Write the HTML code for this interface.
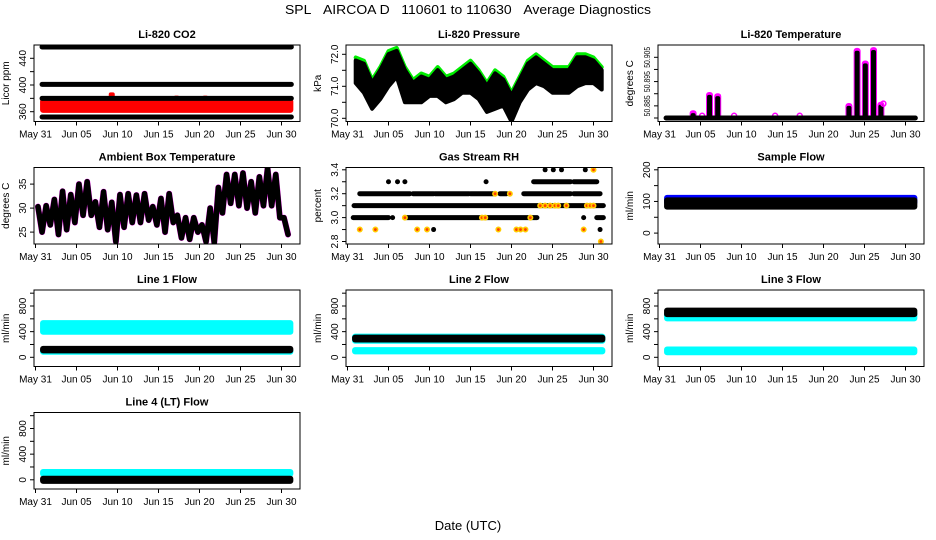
<!DOCTYPE html>
<html><head><meta charset="utf-8"><style>
body{margin:0;background:#fff}
svg{display:block;font-family:"Liberation Sans",Arial,sans-serif}
</style></head><body>
<svg id="chart" width="936" height="540" viewBox="0 0 936 540" xmlns="http://www.w3.org/2000/svg">
<rect width="936" height="540" fill="#fff"/>
<text x="468" y="14" text-anchor="middle" font-size="13" textLength="366" lengthAdjust="spacingAndGlyphs">SPL&#160;&#160;&#160;AIRCOA D&#160;&#160;&#160;110601 to 110630&#160;&#160;&#160;Average Diagnostics</text>
<text x="468" y="530" text-anchor="middle" font-size="13">Date (UTC)</text>
</svg>
<script>
// ---- shared x axis ----
const xTickDays = [0,5,10,15,20,25,30];
const xTickLabels = ['May 31','Jun 05','Jun 10','Jun 15','Jun 20','Jun 25','Jun 30'];
const dataStart = 0.8, dataEnd = 31.2;

// ---- CO2 ----
const co2BlackLevels = [457, 401, 380, 352];
const co2RedLow = 362, co2RedHigh = 376;
const co2RedSpikeDays = [2.5, 9.3, 17.2, 20.7, 28.8, 30.5];
const co2RedSpikeVals = [380, 389, 384, 384, 383, 380];

// ---- Pressure ----
const pressDays = [1,2,3,4,5,6,7,8,9,10,11,12,13,14,15,16,17,18,19,20,21,22,23,24,25,26,27,28,29,30,31];
const pressUpper = [71.9,71.8,71.2,71.6,72.1,72.2,71.6,71.2,71.4,71.3,71.6,71.3,71.4,71.6,71.8,71.5,71.1,71.5,71.3,70.8,71.3,71.8,72.0,71.8,71.6,71.6,71.6,72.0,72.0,71.9,71.6];
const pressLower = [71.1,70.8,70.3,70.6,71.0,71.3,70.5,70.5,70.5,70.7,70.7,70.5,70.6,70.8,70.8,70.6,70.2,70.3,70.4,69.9,70.5,70.9,71.1,71.0,70.8,70.8,70.8,71.0,71.1,71.1,70.9];

// ---- Li-820 temperature ----
const tempBase = 50.880;
const tempSpikeDays = [4.1, 6.1, 7.1, 23.1, 24.1, 25.1, 26.1, 27.0];
const tempSpikeVals = [50.882, 50.8895, 50.889, 50.885, 50.9077, 50.9025, 50.908, 50.8855];
const tempMagentaDays = [5.2, 9.1, 14.1, 17.1, 27.3];
const tempMagentaVals = [50.8805, 50.8805, 50.8805, 50.8805, 50.8855];

// ---- Ambient box temperature ----
const ambDays = [1,2,3,4,5,6,7,8,9,10,11,12,13,14,15,16,17,18,19,20,21,22,23,24,25,26,27,28,29,30,31];
const ambMax = [30.3,30.5,31.8,33.5,32.8,35,35.5,31.3,33.4,31.2,32.8,33,32.7,33,30.3,32,33,28.5,28,28,26.5,30,34.3,37,37,37.3,35.5,36.5,38.3,37,28];
const ambMin = [25,26.5,24.5,25.5,27,28.5,28.5,26,25.5,23,26,27,27,27.5,26.5,25,27,23.8,23.5,25,23,22.8,29,31,30.5,30,29,30.5,30.5,28,24.5];

// ---- Gas stream RH (runs: level, start day, end day) ----
const rhRunLevels = [3.1,3.0,3.0,3.0,3.0,3.2,3.2,3.2,3.2,3.2,3.2,3.2,3.3,3.3,3.3,3.3,3.3,3.3,3.4,3.4,3.4,3.4,2.9,2.9,3.0];
const rhRunStart  = [0.8,0.7,5.5,7.2,30.4,1.5,8.0,10.7,15.0,18.6,21.5,27.6,5.0,6.1,7.0,16.9,22.7,27.6,24.1,25.1,26.1,29.0,10.5,30.8,28.8];
const rhRunEnd    = [31.2,5.0,5.5,23.1,31.2,7.6,10.5,14.8,17.8,19.4,27.2,30.8,5.0,6.1,7.0,16.9,27.2,30.4,24.1,25.1,26.1,29.0,10.5,30.8,28.8];
const rhOrangeDays = [1.5,3.4,8.5,9.7,18.4,20.6,21.1,21.7,28.8,30.9,7.0,16.4,16.8,22.3,23.5,24.1,24.7,25.3,25.7,26.7,29.2,29.6,30.0,18.0,19.8,30.0];
const rhOrangeVals = [2.9,2.9,2.9,2.9,2.9,2.9,2.9,2.9,2.9,2.8,3.0,3.0,3.0,3.0,3.1,3.1,3.1,3.1,3.1,3.1,3.1,3.1,3.1,3.2,3.2,3.4];

// ---- Flows: bands [low, high] ----
const sampleBlue = [95, 113];
const sampleBlack = [82, 105];
const line1Cyan = [[390, 540], [88, 110]];
const line1Black = [[100, 140]];
const line2Cyan = [[250, 330], [85, 120]];
const line2Black = [[270, 315]];
const line3Cyan = [[600, 680], [70, 130]];
const line3Black = [[665, 735]];
const line4Cyan = [[85, 130]];
const line4Black = [[-25, 25]];

const NS = 'http://www.w3.org/2000/svg';
const svg = document.getElementById('chart');
const colLeft = [34, 346, 658];
const boxW = 266;
const rowTop = [45, 167.5, 290, 412.5];
const boxH = 76.5;
const pxPerDay = 8.2;

function el(tag, attrs, parent) {
  const e = document.createElementNS(NS, tag);
  for (const k in attrs) e.setAttribute(k, attrs[k]);
  (parent || svg).appendChild(e);
  return e;
}

function makePanel(id, col, row, title, ytitle, v1, o1, v2, o2, ticks, labels, lfs, tlen) {
  const L = colLeft[col], T = rowTop[row];
  const p = { L, T, R: L + boxW, B: T + boxH };
  p.x = d => L + 1.5 + d * pxPerDay;
  p.y = v => T + o1 + (v - v1) * (o2 - o1) / (v2 - v1);
  const g = el('g', {});
  
  
  const cp = el('clipPath', { id: 'clip-' + id }, g);
  el('rect', { x: L, y: T, width: boxW, height: boxH }, cp);
  p.g = g;
  p.data = el('g', { 'clip-path': 'url(#clip-' + id + ')' }, g);
  
  
  const t = el('text', { x: L + boxW / 2, y: T - 7, 'text-anchor': 'middle', 'font-size': 11, 'font-weight': 'bold' }, g);
  t.textContent = title;
  
  
  const yt = el('text', { transform: 'translate(' + (L - 25) + ',' + (T + boxH / 2) + ') rotate(-90)', 'text-anchor': 'middle', 'font-size': 10 }, g);
  yt.textContent = ytitle;
  
  
  ticks.forEach((v, i) => {
    const yy = p.y(v);
    const tk = el('line', { x1: L - 4, x2: L, y1: yy, y2: yy, stroke: '#000', 'stroke-width': 1 }, g);
    
    
    if (labels[i] !== '') {
      const la = { transform: 'translate(' + (L - 8) + ',' + yy + ') rotate(-90)', 'text-anchor': 'middle', 'font-size': lfs || 10 };
      if (tlen) { la.textLength = tlen; la.lengthAdjust = 'spacingAndGlyphs'; }
      const lt = el('text', la, g);
      lt.textContent = labels[i];
      
      
    }
  });
  xTickDays.forEach((d, i) => {
    const xx = p.x(d);
    const tk = el('line', { x1: xx, x2: xx, y1: p.B, y2: p.B + 4, stroke: '#000', 'stroke-width': 1 }, g);
    
    
    const lt = el('text', { x: xx, y: p.B + 16, 'text-anchor': 'middle', 'font-size': 10 }, g);
    lt.textContent = xTickLabels[i];
    
    
  });
  const box = el('rect', { x: L, y: T, width: boxW, height: boxH, fill: 'none', stroke: '#000', 'stroke-width': 1 }, g);
  
  
  return p;
}

function hband(p, lo, hi, color, name) {
  const r = el('rect', { x: p.x(dataStart) - 2, y: p.y(hi) - 2.5, width: p.x(dataEnd) - p.x(dataStart) + 4, height: Math.max(2, p.y(lo) - p.y(hi)) + 5, fill: color, rx: 3 }, p.data);
  
  
}
function hline(p, v, d0, d1, color, w, name) {
  const l = el('line', { x1: p.x(d0), x2: p.x(d1), y1: p.y(v), y2: p.y(v), stroke: color, 'stroke-width': w, 'stroke-linecap': 'round' }, p.data);
  
  
}

// Panel 1: CO2
const p1 = makePanel('co2', 0, 0, 'Li-820 CO2', 'Licor ppm', 440, 13.3, 360, 66.7, [360,380,400,420,440], ['360','','400','','440']);
hband(p1, co2RedLow, co2RedHigh, '#ff0000', 'co2-red-band');
co2RedSpikeDays.forEach((d, i) => {
  const e = el('rect', { x: p1.x(d) - 3, y: p1.y(co2RedSpikeVals[i]), width: 6, height: p1.y(co2RedHigh) - p1.y(co2RedSpikeVals[i]) + 1, fill: '#ff0000', rx: 2 }, p1.data);
  
  
});
co2BlackLevels.forEach(v => hline(p1, v, dataStart, dataEnd, '#000', 5, 'co2-black-band'));

// Panel 2: Pressure
const p2 = makePanel('pressure', 1, 0, 'Li-820 Pressure', 'kPa', 72, 9.3, 70, 73.3, [70,70.5,71,71.5,72], ['70.0','','71.0','','72.0']);
{
  const up = pressDays.map((d, i) => p2.x(d) + ',' + p2.y(pressUpper[i]));
  const lo = pressDays.map((d, i) => p2.x(d) + ',' + p2.y(pressLower[i])).reverse();
  const gl = el('polyline', { points: up.join(' '), fill: 'none', stroke: '#00ee00', 'stroke-width': 4, 'stroke-linejoin': 'round', 'stroke-linecap': 'round' }, p2.data);
  
  
  const up2 = pressDays.map((d, i) => p2.x(d) + ',' + (p2.y(pressUpper[i]) + 3));
  const bp = el('polygon', { points: up2.concat(lo).join(' '), fill: '#000', stroke: '#000', 'stroke-width': 4, 'stroke-linejoin': 'round' }, p2.data);
  
  
}

// Panel 3: Li-820 temperature
const p3 = makePanel('li820-temp', 2, 0, 'Li-820 Temperature', 'degrees C', 50.905, 12.3, 50.88, 73, [50.88,50.885,50.89,50.895,50.9,50.905], ['','50.885','','50.895','','50.905'], 8.5, 21);
tempSpikeDays.forEach((d, i) => {
  const m = el('rect', { x: p3.x(d) - 3.5, y: p3.y(tempSpikeVals[i] + 0.0012), width: 7, height: p3.y(tempBase) - p3.y(tempSpikeVals[i] + 0.0012), fill: '#ff00ff', rx: 3 }, p3.data);
  
  
  const b = el('rect', { x: p3.x(d) - 2.5, y: p3.y(tempSpikeVals[i]), width: 5, height: p3.y(tempBase) - p3.y(tempSpikeVals[i]), fill: '#000', rx: 2 }, p3.data);
  
  
});
tempMagentaDays.forEach((d, i) => {
  const c = el('circle', { cx: p3.x(d), cy: p3.y(tempMagentaVals[i]) - 1, r: 2.5, fill: 'none', stroke: '#ff00ff', 'stroke-width': 1.5 }, p3.data);
  
  
});
hline(p3, tempBase, dataStart, dataEnd, '#000', 5, 'temp-baseline-band');

// Panel 4: Ambient
const p4 = makePanel('ambient', 0, 1, 'Ambient Box Temperature', 'degrees C', 35, 16.6, 25, 64.6, [25,30,35], ['25','30','35']);
{
  const pts = [];
  ambDays.forEach((d, i) => { pts.push(p4.x(d - 0.7) + ',' + p4.y(ambMax[i])); pts.push(p4.x(d - 0.2) + ',' + p4.y(ambMin[i])); });
  const pm = el('polyline', { points: pts.join(' '), fill: 'none', stroke: '#ff00ff', 'stroke-width': 6, 'stroke-linejoin': 'round', 'stroke-linecap': 'round' }, p4.data);
  
  
  const pb = el('polyline', { points: pts.join(' '), fill: 'none', stroke: '#000', 'stroke-width': 5.5, 'stroke-linejoin': 'round', 'stroke-linecap': 'round' }, p4.data);
  
  
}

// Panel 5: RH
const p5 = makePanel('rh', 1, 1, 'Gas Stream RH', 'percent', 3.4, 2.3, 2.8, 74, [2.8,2.9,3.0,3.1,3.2,3.3,3.4], ['2.8','','3.0','','3.2','','3.4']);
rhRunLevels.forEach((v, i) => hline(p5, v, rhRunStart[i], rhRunEnd[i], '#000', 5, 'rh-black-run'));
rhOrangeDays.forEach((d, i) => {
  const c = el('circle', { cx: p5.x(d), cy: p5.y(rhOrangeVals[i]), r: 2.2, fill: '#ff4000', stroke: '#ffcc00', 'stroke-width': 1.6 }, p5.data);
  
  
});

// Panel 6: Sample flow
const p6 = makePanel('sample-flow', 2, 1, 'Sample Flow', 'ml/min', 200, 2.3, 0, 65.6, [0,50,100,150,200], ['0','','100','','200']);
hband(p6, sampleBlue[0], sampleBlue[1], '#0000ff', 'sample-blue-band');
hband(p6, sampleBlack[0], sampleBlack[1], '#000', 'sample-black-band');

// Flow panels
const flowTicks = [0,200,400,600,800,1000];
const flowLabels = ['0','','400','','800',''];
function flowPanel(id, col, row, title, cy, bk) {
  const p = makePanel(id, col, row, title, 'ml/min', 800, 16, 0, 67.3, flowTicks, flowLabels);
  cy.forEach(b => hband(p, b[0], b[1], '#00ffff', id + '-cyan-band'));
  bk.forEach(b => hband(p, b[0], b[1], '#000', id + '-black-band'));
}
flowPanel('line1-flow', 0, 2, 'Line 1 Flow', line1Cyan, line1Black);
flowPanel('line2-flow', 1, 2, 'Line 2 Flow', line2Cyan, line2Black);
flowPanel('line3-flow', 2, 2, 'Line 3 Flow', line3Cyan, line3Black);
flowPanel('line4-flow', 0, 3, 'Line 4 (LT) Flow', line4Cyan, line4Black);
</script>
</body></html>
